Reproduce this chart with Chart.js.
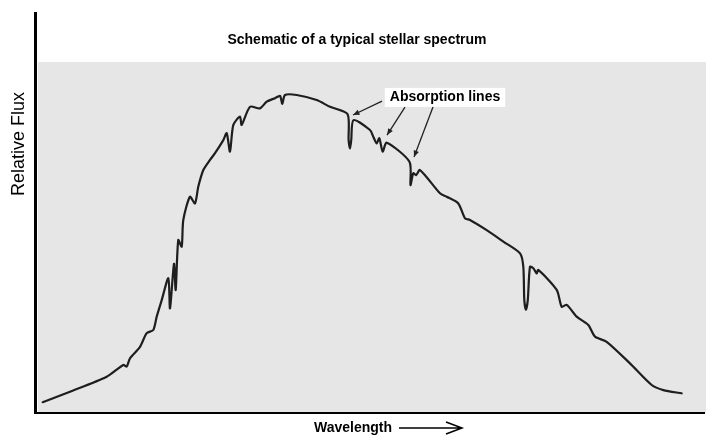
<!DOCTYPE html>
<html>
<head>
<meta charset="utf-8">
<title>Schematic of a typical stellar spectrum</title>
<script src="https://cdn.jsdelivr.net/npm/chart.js@4.4.0/dist/chart.umd.min.js"></script>
<style>
  html, body { margin: 0; padding: 0; background: #fff; }
  #wrap { width: 711px; height: 438px; }
</style>
</head>
<body>
<div id="wrap"><canvas id="spectrum" width="711" height="438"></canvas></div>
<script>
// Wavelength in arbitrary units (0-100 across the axis), flux normalised to the peak
const wavelength = [
  0.85, 4.94, 10.43, 12.92, 13.43, 13.92, 15.42, 16.42, 17.41, 17.92,
  18.67, 19.66, 19.91, 20.51, 20.76, 21.15, 21.66, 21.90, 22.90, 23.65,
  24.15, 24.90, 25.90, 26.65, 27.89, 28.40, 28.89, 29.39, 30.39, 30.64,
  31.89, 33.38, 34.39, 35.63, 36.38, 36.72, 37.13, 38.88, 41.87, 43.86,
  46.48, 46.65, 46.86, 47.04, 47.38, 49.85, 50.34, 50.85, 51.24, 51.75,
  52.35, 55.76, 55.91, 56.33, 56.74, 57.34, 60.33, 61.33, 63.07, 64.07,
  64.82, 67.32, 69.81, 72.31, 72.80, 72.95, 73.20, 73.47, 73.80, 74.30,
  74.81, 75.04, 77.80, 78.55, 79.30, 80.79, 82.53, 83.53, 85.28, 88.77,
  92.02, 93.76, 96.51
];
const flux = [
  0.034, 0.067, 0.114, 0.151, 0.146, 0.172, 0.208, 0.251, 0.261, 0.303,
  0.355, 0.424, 0.329, 0.469, 0.387, 0.544, 0.523, 0.607, 0.680, 0.659,
  0.712, 0.764, 0.796, 0.817, 0.858, 0.880, 0.822, 0.906, 0.932, 0.906,
  0.963, 0.958, 0.979, 0.990, 0.997, 0.972, 1.000, 1.000, 0.984, 0.963,
  0.940, 0.858, 0.832, 0.858, 0.921, 0.890, 0.869, 0.848, 0.864, 0.822,
  0.850, 0.790, 0.717, 0.754, 0.748, 0.764, 0.691, 0.680, 0.659, 0.612,
  0.607, 0.575, 0.539, 0.502, 0.460, 0.355, 0.324, 0.355, 0.460, 0.455,
  0.439, 0.450, 0.387, 0.334, 0.340, 0.303, 0.277, 0.240, 0.224, 0.156,
  0.088, 0.072, 0.062
];

// "Absorption lines" callout: label position and arrows (start -> tip), in data units
const calloutText = 'Absorption lines';
const calloutPos = { x: 61.08, y: 0.994 };
const arrowFromX = [51.65, 55.09, 59.28];
const arrowFromY = [0.981, 0.962, 0.962];
const arrowToX = [47.31, 52.40, 56.44];
const arrowToY = [0.937, 0.874, 0.805];

const chartTitle = 'Schematic of a typical stellar spectrum';
const xTitle = 'Wavelength';
const yTitle = 'Relative Flux';

function drawArrowHead(ctx, x1, y1, x2, y2, size) {
  const ang = Math.atan2(y2 - y1, x2 - x1);
  ctx.beginPath();
  ctx.moveTo(x2, y2);
  ctx.lineTo(x2 - size * Math.cos(ang - 0.4), y2 - size * Math.sin(ang - 0.4));
  ctx.lineTo(x2 - size * Math.cos(ang + 0.4), y2 - size * Math.sin(ang + 0.4));
  ctx.closePath();
  ctx.fill();
}

const decor = {
  id: 'decor',
  beforeDraw(chart) {
    const { ctx, chartArea: a } = chart;
    ctx.save();
    ctx.fillStyle = '#ffffff';
    ctx.fillRect(0, 0, chart.width, chart.height);
    // grey scanned-paper panel
    ctx.fillStyle = '#e6e6e6';
    ctx.fillRect(a.left + 1, a.top + 50, a.right - a.left, a.bottom - a.top - 50);
    ctx.restore();
  },
  afterDraw(chart) {
    const { ctx, chartArea: a } = chart;
    const xs = chart.scales.x, ys = chart.scales.y;
    ctx.save();

    // axes
    ctx.strokeStyle = '#000';
    ctx.lineWidth = 3;
    ctx.beginPath();
    ctx.moveTo(a.left - 1.5, a.top);
    ctx.lineTo(a.left - 1.5, a.bottom + 1);
    ctx.stroke();
    ctx.lineWidth = 2;
    ctx.beginPath();
    ctx.moveTo(a.left - 3, a.bottom);
    ctx.lineTo(a.right, a.bottom);
    ctx.stroke();

    // title
    ctx.fillStyle = '#000';
    ctx.font = 'bold 14px "Liberation Sans", Arial, sans-serif';
    ctx.textAlign = 'center';
    ctx.textBaseline = 'middle';
    ctx.fillText(chartTitle, 357, 40);

    // y axis label
    ctx.save();
    ctx.translate(19, 144);
    ctx.rotate(-Math.PI / 2);
    ctx.font = '18px "Liberation Sans", Arial, sans-serif';
    ctx.fillText(yTitle, 0, 0);
    ctx.restore();

    // x axis label with arrow
    ctx.font = 'bold 14px "Liberation Sans", Arial, sans-serif';
    ctx.textAlign = 'center';
    ctx.fillText(xTitle, 353, 428);
    ctx.lineWidth = 1.5;
    ctx.beginPath();
    ctx.moveTo(399, 428);
    ctx.lineTo(462, 428);
    ctx.moveTo(446, 422);
    ctx.lineTo(462, 428);
    ctx.lineTo(446, 434);
    ctx.stroke();

    // callout
    ctx.font = 'bold 14px "Liberation Sans", Arial, sans-serif';
    const cx = xs.getPixelForValue(calloutPos.x);
    const cy = ys.getPixelForValue(calloutPos.y);
    const w = ctx.measureText(calloutText).width;
    ctx.fillStyle = '#fff';
    ctx.fillRect(cx - w / 2 - 5, cy - 9, w + 10, 19);
    ctx.fillStyle = '#000';
    ctx.fillText(calloutText, cx, cy);

    ctx.strokeStyle = '#222';
    ctx.fillStyle = '#222';
    ctx.lineWidth = 1.3;
    for (let i = 0; i < arrowFromX.length; i++) {
      const x1 = xs.getPixelForValue(arrowFromX[i]), y1 = ys.getPixelForValue(arrowFromY[i]);
      const x2 = xs.getPixelForValue(arrowToX[i]), y2 = ys.getPixelForValue(arrowToY[i]);
      ctx.beginPath();
      ctx.moveTo(x1, y1);
      ctx.lineTo(x2, y2);
      ctx.stroke();
      drawArrowHead(ctx, x1, y1, x2, y2, 7);
    }
    ctx.restore();
  }
};

new Chart(document.getElementById('spectrum'), {
  type: 'line',
  data: {
    datasets: [{
      label: 'Flux',
      data: wavelength.map((w, i) => ({ x: w, y: flux[i] })),
      borderColor: '#1e1e1e',
      borderWidth: 2.2,
      borderJoinStyle: 'round',
      borderCapStyle: 'round',
      pointRadius: 0,
      tension: 0.25,
      fill: false
    }]
  },
  options: {
    responsive: false,
    animation: false,
    devicePixelRatio: 1,
    layout: { padding: { left: 37, right: 6, top: 12, bottom: 25 } },
    scales: {
      x: { type: 'linear', min: 0, max: 100, display: false },
      y: { min: 0, max: 1.261, display: false }
    },
    plugins: {
      legend: { display: false },
      title: { display: false },
      tooltip: { enabled: false }
    }
  },
  plugins: [decor]
});
</script>
</body>
</html>
